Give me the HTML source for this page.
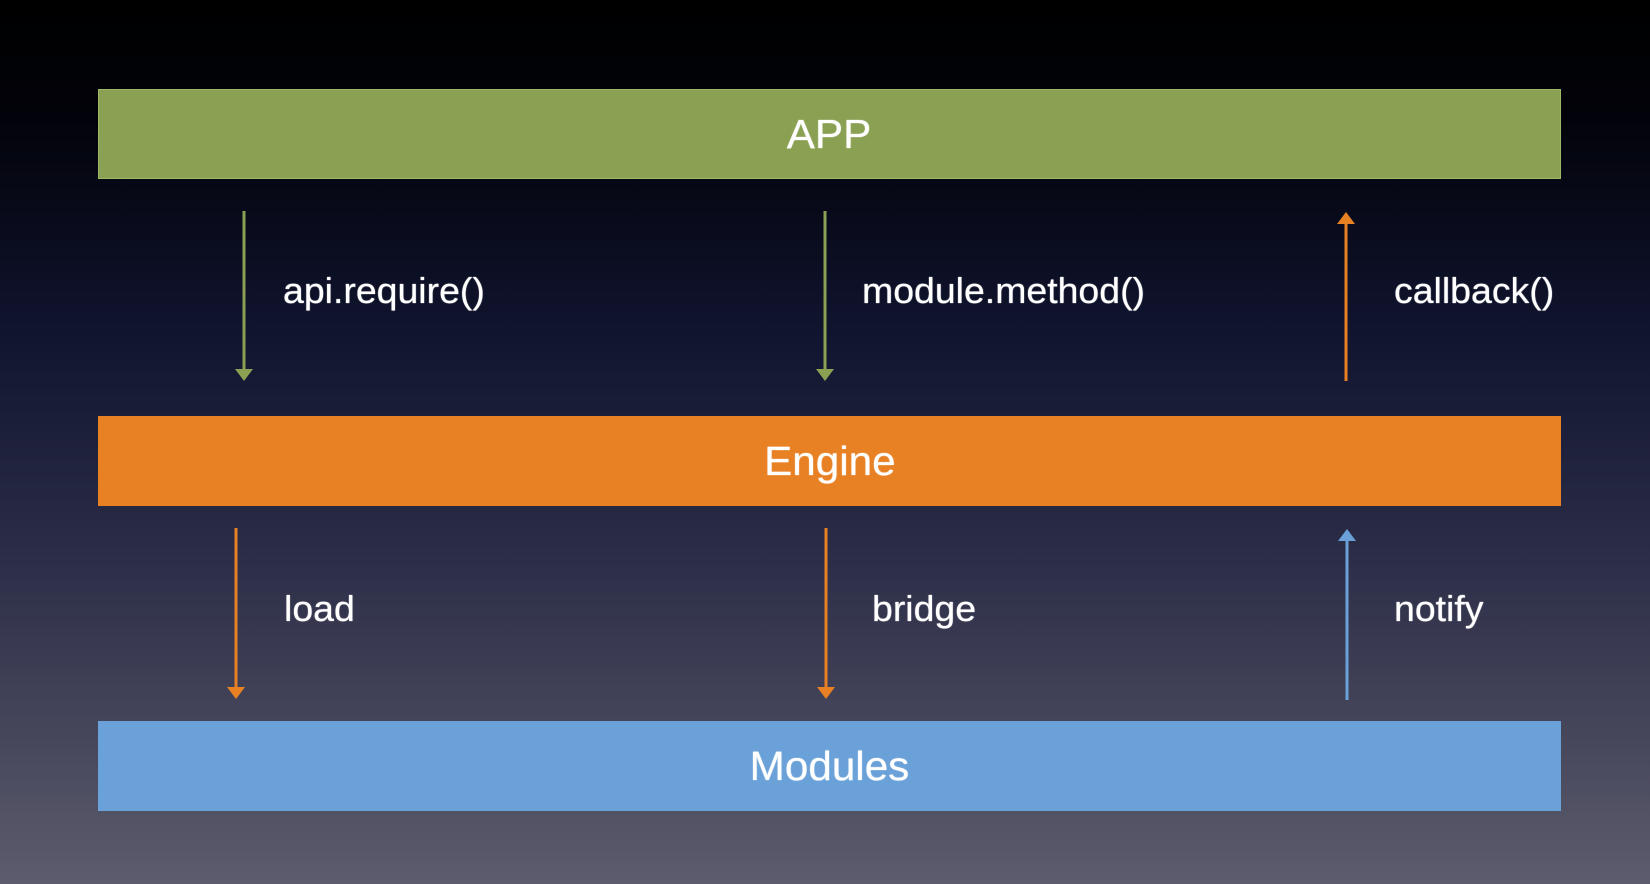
<!DOCTYPE html>
<html><head><meta charset="utf-8"><style>
html,body{margin:0;padding:0}
body{width:1650px;height:884px;overflow:hidden;position:relative;
background:linear-gradient(to bottom,#000 0px,#02030a 120px,#10142e 330px,#2c2e48 560px,#4a4a5e 760px,#5d5c6e 884px);
font-family:"Liberation Sans",sans-serif;color:#fff}
.box{position:absolute;left:98px;width:1463px;height:90px;display:flex;align-items:center;justify-content:center;font-size:41px}
.box span{display:inline-block;transform:scaleX(1.03);text-shadow:0 0 1px #fff}
.lbl{position:absolute;font-size:36px;transform-origin:left center;transform:scaleX(1.04);white-space:nowrap;line-height:1;text-shadow:0 0 1px #fff}
svg{position:absolute;left:0;top:0}
</style></head><body>
<div class="box" style="top:89px;background:#8aa052;border:1px solid #9fb866;box-sizing:border-box"><span>APP</span></div>
<div class="box" style="top:416px;background:#e88024;box-sizing:border-box"><span>Engine</span></div>
<div class="box" style="top:721px;background:#6aa1d8;box-sizing:border-box"><span>Modules</span></div>
<svg width="1650" height="884">
<g stroke-width="3" fill="none">
<line x1="244" y1="211" x2="244" y2="372" stroke="#8aa052"/>
<line x1="825" y1="211" x2="825" y2="372" stroke="#8aa052"/>
<line x1="1346" y1="222" x2="1346" y2="381" stroke="#e88024"/>
<line x1="236" y1="528" x2="236" y2="690" stroke="#e88024"/>
<line x1="826" y1="528" x2="826" y2="690" stroke="#e88024"/>
<line x1="1347" y1="540" x2="1347" y2="700" stroke="#6aa1d8"/>
</g>
<polygon points="235,369 253,369 244,381" fill="#8aa052"/>
<polygon points="816,369 834,369 825,381" fill="#8aa052"/>
<polygon points="1337,224 1355,224 1346,212" fill="#e88024"/>
<polygon points="227,687 245,687 236,699" fill="#e88024"/>
<polygon points="817,687 835,687 826,699" fill="#e88024"/>
<polygon points="1338,541 1356,541 1347,529" fill="#6aa1d8"/>
</svg>
<div class="lbl" style="left:283px;top:273px">api.require()</div>
<div class="lbl" style="left:862px;top:273px">module.method()</div>
<div class="lbl" style="left:1394px;top:273px">callback()</div>
<div class="lbl" style="left:284px;top:591px">load</div>
<div class="lbl" style="left:872px;top:591px">bridge</div>
<div class="lbl" style="left:1394px;top:591px">notify</div>
</body></html>
